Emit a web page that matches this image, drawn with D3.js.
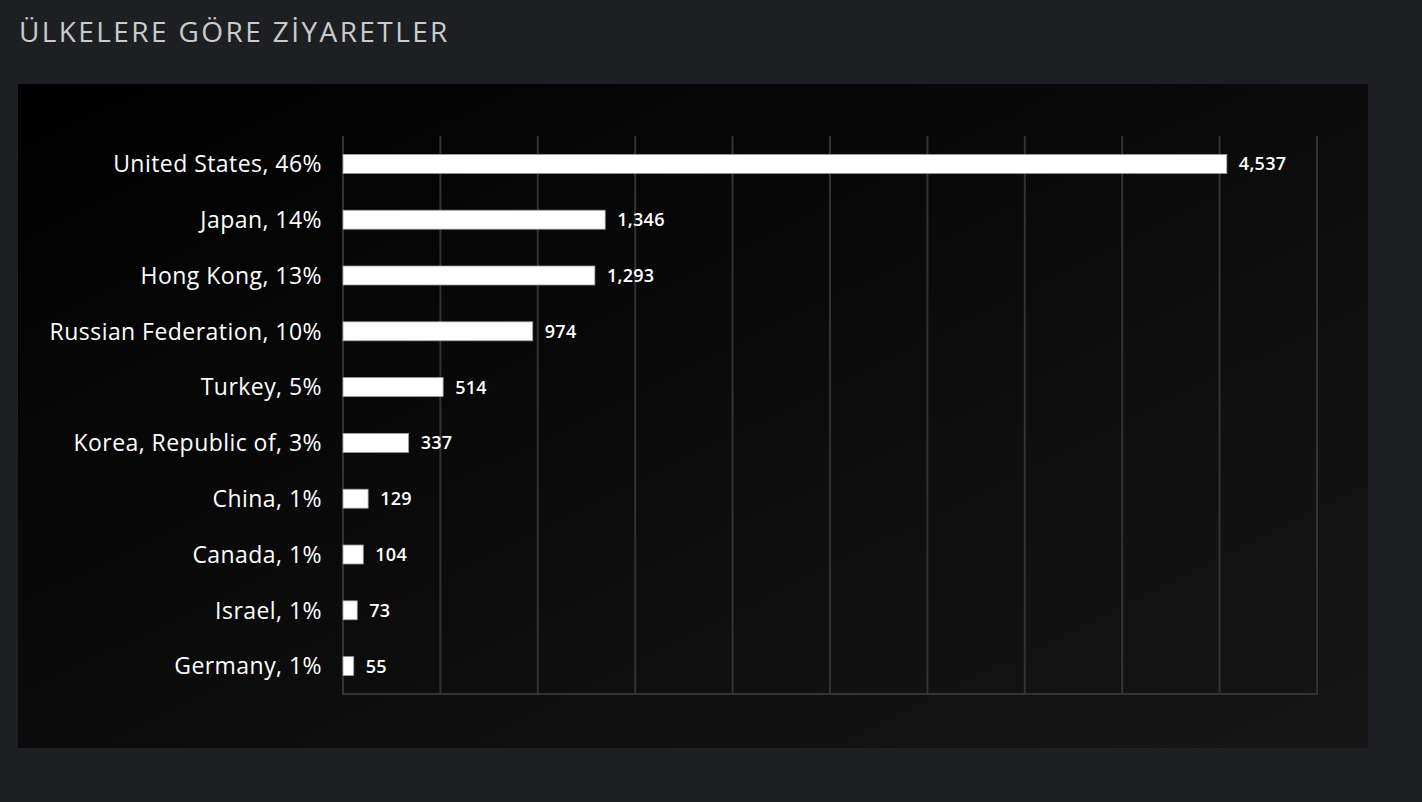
<!DOCTYPE html>
<html><head><meta charset="utf-8">
<script src="https://cdn.jsdelivr.net/npm/d3@7"></script>
<style>
html,body{margin:0;padding:0;background:#1e1f23;}
</style></head>
<body>
<svg id="chart" width="1422" height="802"></svg>
<script>
const countries = ["United States","Japan","Hong Kong","Russian Federation","Turkey","Korea, Republic of","China","Canada","Israel","Germany"];
const percents = [46,14,13,10,5,3,1,1,1,1];
const visits = [4537,1346,1293,974,514,337,129,104,73,55];
const xTicks = [0,500,1000,1500,2000,2500,3000,3500,4000,4500,5000];
const title = "ÜLKELERE GÖRE ZİYARETLER";

const svg = d3.select("#chart");
const defs = svg.append("defs");
const grad = defs.append("linearGradient").attr("id","bg").attr("x1","0").attr("y1","0").attr("x2","1").attr("y2","1");
grad.append("stop").attr("offset","0%").attr("stop-color","#000000");
grad.append("stop").attr("offset","100%").attr("stop-color","#161616");

svg.append("text").attr("x",19).attr("y",42)
  .attr("fill","#c9cbcd").attr("font-family","'Open Sans', sans-serif")
  .attr("font-size",28).attr("letter-spacing",2.4).text(title);

svg.append("rect").attr("x",18).attr("y",84).attr("width",1350).attr("height",664).attr("fill","url(#bg)");

const x = d3.scaleLinear().domain([0,5000]).range([343,1317]);
const y = d3.scaleBand().domain(countries).range([136,694]).paddingInner(0.66).paddingOuter(0.33);

const g = svg.append("g");
g.selectAll("line.grid").data(xTicks).enter().append("line")
  .attr("x1",d=>x(d)).attr("x2",d=>x(d)).attr("y1",136).attr("y2",694)
  .attr("stroke","#333333").attr("stroke-width",2);
g.append("line").attr("x1",x(0)-1).attr("x2",x(5000)+1).attr("y1",694).attr("y2",694)
  .attr("stroke","#333333").attr("stroke-width",2);

g.selectAll("rect.bar").data(visits).enter().append("rect")
  .attr("x",x(0)).attr("y",(d,i)=>y(countries[i]))
  .attr("width",d=>x(d)-x(0)).attr("height",y.bandwidth())
  .attr("fill","#ffffff").attr("stroke","#9a9a9a").attr("stroke-width",0.8);

g.selectAll("text.val").data(visits).enter().append("text")
  .attr("x",d=>x(d)+12).attr("y",(d,i)=>y(countries[i])+y.bandwidth()/2)
  .attr("dy","0.36em").attr("fill","#ffffff")
  .attr("font-family","'Open Sans', sans-serif").attr("font-size",18).attr("font-weight",600)
  .attr("letter-spacing",0.3)
  .text(d=>d3.format(",")(d));

g.selectAll("text.cat").data(countries).enter().append("text")
  .attr("x",322).attr("y",d=>y(d)+y.bandwidth()/2)
  .attr("dy","0.36em").attr("text-anchor","end").attr("fill","#ffffff")
  .attr("font-family","'Open Sans', sans-serif").attr("font-size",23)
  .attr("letter-spacing",0.45)
  .text((d,i)=>d+", "+percents[i]+"%");
</script>
</body></html>
